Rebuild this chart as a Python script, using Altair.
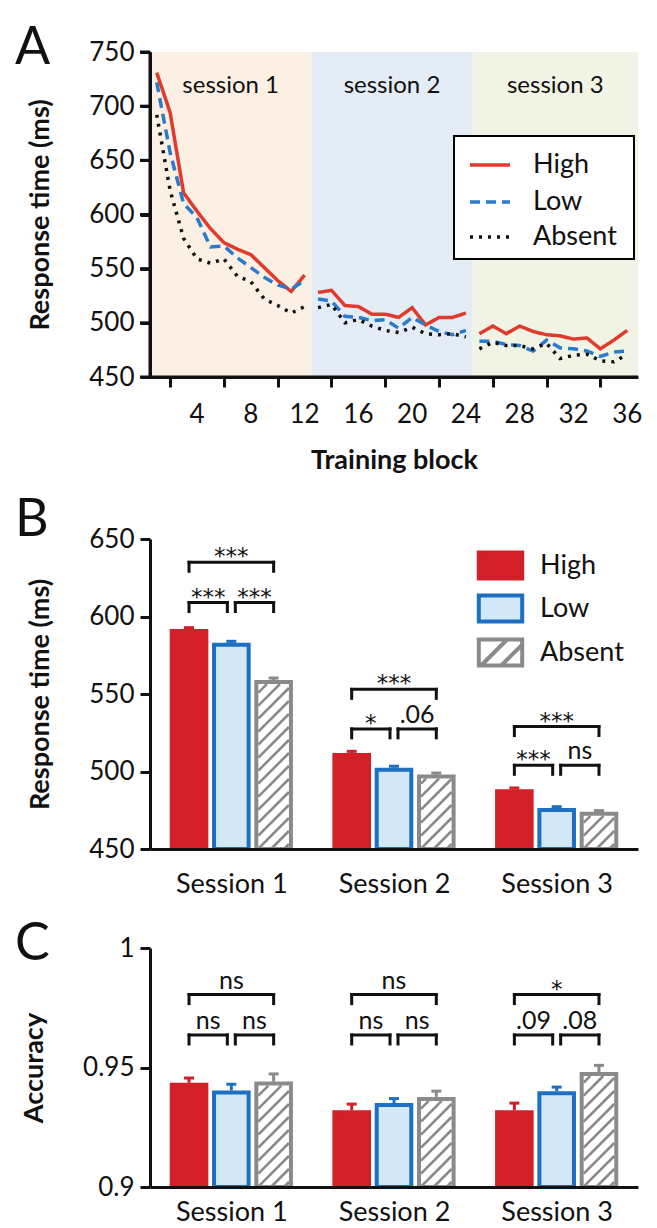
import json
import altair as alt
import pandas as pd

FONT = "Lato"
INK = "#111111"

# ---------------- Panel A data ----------------
blocks = list(range(1, 37))
rt_high = [731, 694, 620, 603, 587, 574, 568, 563, 551, 539, 529, 544,
           528, 530, 516, 515, 508, 508, 505, 514, 498, 505, 505, 509,
           490, 497, 490, 497, 492, 489, 488, 485, 486, 476, 484, 493]
rt_low = [722, 657, 610, 597, 570, 571, 560, 551, 542, 535, 531, 539,
          522, 520, 506, 505, 502, 503, 495, 505, 498, 492, 489, 493,
          483, 483, 480, 479, 474, 484, 477, 476, 474, 469, 473, 474]
rt_absent = [692, 622, 578, 559, 555, 559, 543, 538, 522, 516, 509, 515,
             514, 517, 500, 503, 497, 493, 491, 496, 490, 489, 490, 487,
             476, 482, 479, 479, 476, 481, 467, 470, 471, 465, 464, 471]
conditions = ["High", "Low", "Absent"]
session_labels = ["session 1", "session 2", "session 3"]
session_start = [0.5, 12.5, 24.5]
session_end = [12.5, 24.5, 36.8]
session_bg = ["#fcf0e4", "#e4edf6", "#f1f4e4"]
block_ticks = list(range(2, 37, 2))
block_tick_labels = [str(v) if v % 4 == 0 else "" for v in block_ticks]
rt_range_a = [450, 750]
rt_ticks_a = [450, 500, 550, 600, 650, 700, 750]

# ---------------- Panel B data ----------------
bar_sessions = ["Session 1", "Session 2", "Session 3"]
rt_bar_high = [592, 512, 488.5]
rt_bar_low = [583, 502.5, 476.5]
rt_bar_absent = [559, 498, 474]
rt_err_high = [0.8, 1.0, 0.9]
rt_err_low = [1.0, 0.9, 0.8]
rt_err_absent = [1.3, 1.0, 0.8]
rt_sig = [["***", "***", "***"], ["*", ".06", "***"], ["***", "ns", "***"]]
rt_sig_lower = [609, 527.5, 504]
rt_sig_upper = [635, 553, 529]
rt_ticks_b = [450, 500, 550, 600, 650]

# ---------------- Panel C data ----------------
acc_high = [0.9436, 0.9321, 0.9321]
acc_low = [0.9404, 0.9351, 0.9401]
acc_absent = [0.9441, 0.9377, 0.9481]
acc_err_high = [0.0020, 0.0026, 0.0030]
acc_err_low = [0.0026, 0.0019, 0.0017]
acc_err_absent = [0.0032, 0.0024, 0.0028]
acc_sig = [["ns", "ns", "ns"], ["ns", "ns", "ns"], [".09", ".08", "*"]]
acc_sig_lower = [0.9636, 0.9636, 0.9636]
acc_sig_upper = [0.9805, 0.9805, 0.9805]
acc_ticks = [0.9, 0.95, 1.0]

# ---------------- styling ----------------
line_colors = ["#e03a2c", "#2a7bcb", "#111111"]
line_dashes = [[1, 0], [10, 6], [3, 6]]
RED_BAR, BLUE_EDGE, BLUE_FILL, GRAY = "#d31f27", "#1c6fc1", "#d3e8f7", "#8a8a8a"
bar_fill = [RED_BAR, BLUE_FILL, "#ffffff"]
bar_stroke = [RED_BAR, BLUE_EDGE, GRAY]

W = 488
HA, HB, HC = 325, 310, 239
SX = W / 3.0
STEP_PX, HALF_PX, STROKE = 42.3, 19.3, 4.0
GAP_PX, CAP_PX, TICK_PX, HATCH_PX = 4.0, 5.0, 9.0, 13.0

RECT_PATH = "M-1.4,-0.84L1.4,-0.84L1.4,0.84L-1.4,0.84Z"
HATCH_PATH = RECT_PATH + "M-1.25,0.84L0.43,-0.84M0.05,0.84L1.4,-0.51"
legend_paths = [RECT_PATH, RECT_PATH, HATCH_PATH]
legend_rows_y_b = [9, 52, 96]
legend_rows_y_a = [91, 128, 163]


def axis_common(**kw):
    base = dict(domainColor=INK, domainWidth=3, tickColor=INK, tickWidth=3,
                labelColor=INK, titleColor=INK, labelFont=FONT, titleFont=FONT,
                grid=False, labelFlush=False, labelOverlap=False, zindex=1,
                domain=True, ticks=True, labels=True,
                domainOpacity=1, tickOpacity=1, labelOpacity=1)
    base.update(kw)
    return alt.Axis(**base)


def letter(ch, x, y):
    return alt.Chart(pd.DataFrame({"letter": [ch]})).mark_text(
        font=FONT, fontSize=52, align="left", baseline="top", color=INK
    ).encode(text="letter:N", x=alt.value(x), y=alt.value(y))


# ================= Panel A =================
lines_df = pd.DataFrame({
    "block": blocks * 3,
    "rt": rt_high + rt_low + rt_absent,
    "cond": ["High"] * 36 + ["Low"] * 36 + ["Absent"] * 36,
})
lines_df["session"] = (lines_df["block"] - 1) // 12
bg_df = pd.DataFrame({"name": session_labels, "start": session_start, "end": session_end})
bg_df["mid"] = (bg_df["start"] + bg_df["end"]) / 2
bg_df["lo"] = rt_range_a[0]
bg_df["hi"] = rt_range_a[1]
bg_df["ty"] = rt_range_a[1] - 31

XA = alt.Scale(domain=[0.5, 36.8], nice=False, zero=False)
YA = alt.Scale(domain=rt_range_a, nice=False, zero=False)
xa_expr = "%s[round(datum.value / 2) - 1]" % json.dumps(block_tick_labels)

bg = alt.Chart(bg_df).mark_rect().encode(
    x=alt.X("start:Q", scale=XA, axis=axis_common(
        values=block_ticks, labelExpr=xa_expr,
        title="Training block", titleFontSize=27, titleFontWeight="bold", titlePadding=20,
        labelFontSize=26, labelPadding=14, tickSize=10)),
    x2="end:Q",
    y=alt.Y("lo:Q", scale=YA, axis=axis_common(
        values=rt_ticks_a, title="Response time (ms)", titleFontSize=27, titleFontWeight="bold",
        titlePadding=34, labelFontSize=26, labelPadding=6, tickSize=10)),
    y2="hi:Q",
    fill=alt.Fill("name:N", scale=alt.Scale(domain=session_labels, range=session_bg), legend=None),
)
sess_txt = alt.Chart(bg_df).mark_text(font=FONT, fontSize=24, baseline="middle", color=INK).encode(
    x=alt.X("mid:Q", scale=XA), y=alt.Y("ty:Q", scale=YA), text="name:N")

# axis lines, y ticks and x tick labels drawn explicitly for panel A
one = pd.DataFrame({"k": [0]})
a_ydomain = alt.Chart(one).mark_rule(color=INK, strokeWidth=3).encode(
    x=alt.value(0), y=alt.value(0), y2=alt.value(HA + 1.5))
a_xdomain = alt.Chart(one).mark_rule(color=INK, strokeWidth=3).encode(
    x=alt.value(-1.5), x2=alt.value(W), y=alt.value(HA))
a_yticks = alt.Chart(pd.DataFrame({"t": rt_ticks_a})).mark_rule(color=INK, strokeWidth=3).encode(
    y=alt.Y("t:Q", scale=YA), x=alt.value(-10), x2=alt.value(0))
xlab_df = pd.DataFrame({"t": block_ticks, "lab": block_tick_labels})
a_xlabels = alt.Chart(xlab_df).transform_filter("datum.lab != ''").mark_text(
    font=FONT, fontSize=26, baseline="middle", color=INK).encode(
    x=alt.X("t:Q", scale=XA), y=alt.value(HA + 38), text="lab:N")

# legend frame (decoration only)
legend_box = alt.Chart(one).mark_rect(
    fill="white", stroke="black", strokeWidth=2).encode(
    x=alt.value(304), x2=alt.value(484), y=alt.value(84), y2=alt.value(207))

a_layers = [bg, sess_txt]
for j, c in enumerate(conditions):
    leg = alt.Legend(title=None, orient="none", legendX=318, legendY=legend_rows_y_a[j], padding=0,
                     labelFont=FONT, labelFontSize=27, labelColor=INK,
                     symbolType="stroke", symbolSize=1600, symbolStrokeWidth=3.5,
                     symbolDash=line_dashes[j], labelOffset=21)
    for s in range(3):
        a_layers.append(
            alt.Chart(lines_df).transform_filter(
                (alt.datum.cond == c) & (alt.datum.session == s))
            .mark_line(strokeWidth=3.5, strokeDash=line_dashes[j]).encode(
                x=alt.X("block:Q", scale=XA),
                y=alt.Y("rt:Q", scale=YA),
                color=alt.Color("cond:N", scale=alt.Scale(domain=[c], range=[line_colors[j]]),
                                legend=leg if s == 0 else None),
            ))
a_layers += [a_ydomain, a_xdomain, a_yticks, a_xlabels, legend_box, letter("A", -135, -29)]
panel_a = alt.layer(*a_layers).resolve_scale(color="independent").properties(width=W, height=HA)


# ================= Panels B & C =================
def bar_panel(vals, errs, sigs, lower, upper, ymin, ymax, H, ticks, ytitle, yfmt, ch, letter_y,
              with_legend, xlab_pad):
    sy = H / (ymax - ymin)
    XS = alt.Scale(domain=[0, 3], nice=False, zero=False)
    YS = alt.Scale(domain=[ymin, ymax], nice=False, zero=False)
    rows = []
    for i, s in enumerate(bar_sessions):
        for j, c in enumerate(conditions):
            xc = i + 0.5 + (j - 1) * STEP_PX / SX
            v, e = vals[j][i], errs[j][i]
            rows.append(dict(session=s, cond=c, xc=xc,
                             x0=xc - (HALF_PX - STROKE / 2) / SX, x1=xc + (HALF_PX - STROKE / 2) / SX,
                             base=ymin, top=v - (STROKE / 2) / sy, val=v, errtop=v + e,
                             cap0=xc - CAP_PX / SX, cap1=xc + CAP_PX / SX))
    bars = pd.DataFrame(rows)

    hatch = []
    for r in rows:
        if r["cond"] != "Absent":
            continue
        w = 2 * (HALF_PX - STROKE)
        h = (r["top"] - r["base"]) * sy - STROKE / 2
        c = -w + 5
        while c < h:
            u0, u1 = max(0.0, -c), min(w, h - c)
            if u1 > u0:
                hatch.append(dict(hx0=r["xc"] + (u0 - w / 2) / SX, hx1=r["xc"] + (u1 - w / 2) / SX,
                                  hy0=r["base"] + (u0 + c) / sy, hy1=r["base"] + (u1 + c) / sy))
            c += HATCH_PX
    hatch_df = pd.DataFrame(hatch)

    segs, labs = [], []
    gap, tick = GAP_PX / SX, TICK_PX / sy
    for i in range(3):
        xs = list(bars[bars["session"] == bar_sessions[i]]["xc"])
        pairs = [(xs[0], xs[1] - gap, lower[i]), (xs[1] + gap, xs[2], lower[i]), (xs[0], xs[2], upper[i])]
        for k, (a, b, y) in enumerate(pairs):
            segs += [dict(sx0=a, sx1=b, sy0=y, sy1=y),
                     dict(sx0=a, sx1=a, sy0=y - tick, sy1=y),
                     dict(sx0=b, sx1=b, sy0=y - tick, sy1=y)]
            labs.append(dict(lx=(a + b) / 2, ly=y, text=sigs[i][k], star="*" in sigs[i][k]))
    seg_df, lab_df = pd.DataFrame(segs), pd.DataFrame(labs)

    stroke_s = alt.Scale(domain=conditions, range=bar_stroke)
    lab_expr = "%s[floor(datum.value)]" % json.dumps(bar_sessions)

    layers = []
    for j, c in enumerate(conditions):
        if with_legend:
            leg = alt.Legend(title=None, orient="none", legendX=333, legendY=legend_rows_y_b[j], padding=0,
                             labelFont=FONT, labelFontSize=27, labelColor=INK,
                             symbolType=legend_paths[j], symbolSize=961, symbolStrokeWidth=4,
                             labelOffset=22)
        else:
            leg = None
        enc = dict(
            x=alt.X("x0:Q", scale=XS),
            x2="x1:Q",
            y=alt.Y("base:Q", scale=YS),
            y2="top:Q",
            fill=alt.Fill("cond:N", scale=alt.Scale(domain=[c], range=[bar_fill[j]]), legend=leg),
            stroke=alt.Stroke("cond:N", scale=alt.Scale(domain=[c], range=[bar_stroke[j]]), legend=leg),
        )
        if j == 0:
            enc["x"] = alt.X("x0:Q", scale=XS, axis=axis_common(
                values=[0.5, 1.5, 2.5], labelExpr=lab_expr, title=None, ticks=False, tickSize=0,
                labelFontSize=27, labelPadding=xlab_pad))
            enc["y"] = alt.Y("base:Q", scale=YS, axis=axis_common(
                values=ticks, format=yfmt, title=ytitle, titleFontSize=27, titleFontWeight="bold",
                titlePadding=34, labelFontSize=26, labelPadding=6, tickSize=10))
        layers.append(alt.Chart(bars).transform_filter(alt.datum.cond == c)
                      .mark_rect(strokeWidth=STROKE).encode(**enc))

    hatch_layer = alt.Chart(hatch_df).mark_rule(strokeWidth=2.6, color=GRAY).encode(
        x=alt.X("hx0:Q", scale=XS), x2="hx1:Q",
        y=alt.Y("hy0:Q", scale=YS), y2="hy1:Q")
    err_layer = alt.Chart(bars).mark_rule(strokeWidth=3).encode(
        x=alt.X("xc:Q", scale=XS),
        y=alt.Y("val:Q", scale=YS), y2="errtop:Q",
        stroke=alt.Stroke("cond:N", scale=stroke_s, legend=None))
    cap_layer = alt.Chart(bars).mark_rule(strokeWidth=3).encode(
        x=alt.X("cap0:Q", scale=XS), x2="cap1:Q",
        y=alt.Y("errtop:Q", scale=YS),
        stroke=alt.Stroke("cond:N", scale=stroke_s, legend=None))
    seg_layer = alt.Chart(seg_df).mark_rule(strokeWidth=3, color=INK, strokeCap="square").encode(
        x=alt.X("sx0:Q", scale=XS), x2="sx1:Q",
        y=alt.Y("sy0:Q", scale=YS), y2="sy1:Q")
    star_layer = alt.Chart(lab_df).transform_filter("datum.star").mark_text(
        font="DejaVu Sans", fontSize=23, baseline="alphabetic", dy=2, color=INK).encode(
        x=alt.X("lx:Q", scale=XS), y=alt.Y("ly:Q", scale=YS), text="text:N")
    txt_layer = alt.Chart(lab_df).transform_filter("!datum.star").mark_text(
        font=FONT, fontSize=25, baseline="alphabetic", dy=-6, color=INK).encode(
        x=alt.X("lx:Q", scale=XS), y=alt.Y("ly:Q", scale=YS), text="text:N")
    layers += [hatch_layer, err_layer, cap_layer, seg_layer, star_layer, txt_layer,
               letter(ch, -135, letter_y)]
    return alt.layer(*layers).resolve_scale(fill="independent", stroke="independent").properties(
        width=W, height=H)


panel_b = bar_panel([rt_bar_high, rt_bar_low, rt_bar_absent],
                    [rt_err_high, rt_err_low, rt_err_absent],
                    rt_sig, rt_sig_lower, rt_sig_upper, 450, 650, HB, rt_ticks_b,
                    "Response time (ms)", "d", "B", -44, True, 22)
panel_c = bar_panel([acc_high, acc_low, acc_absent],
                    [acc_err_high, acc_err_low, acc_err_absent],
                    acc_sig, acc_sig_lower, acc_sig_upper, 0.9, 1.0, HC, acc_ticks,
                    "Accuracy", ".2~f", "C", -29, False, 12)

chart = alt.vconcat(panel_a, panel_b, panel_c, spacing=21).properties(
    padding={"left": 7, "top": 14, "right": 5, "bottom": 0}
).configure(font=FONT, background="white").configure_view(stroke=None)

chart.save("out.html", embed_options={"renderer": "svg", "actions": False})
